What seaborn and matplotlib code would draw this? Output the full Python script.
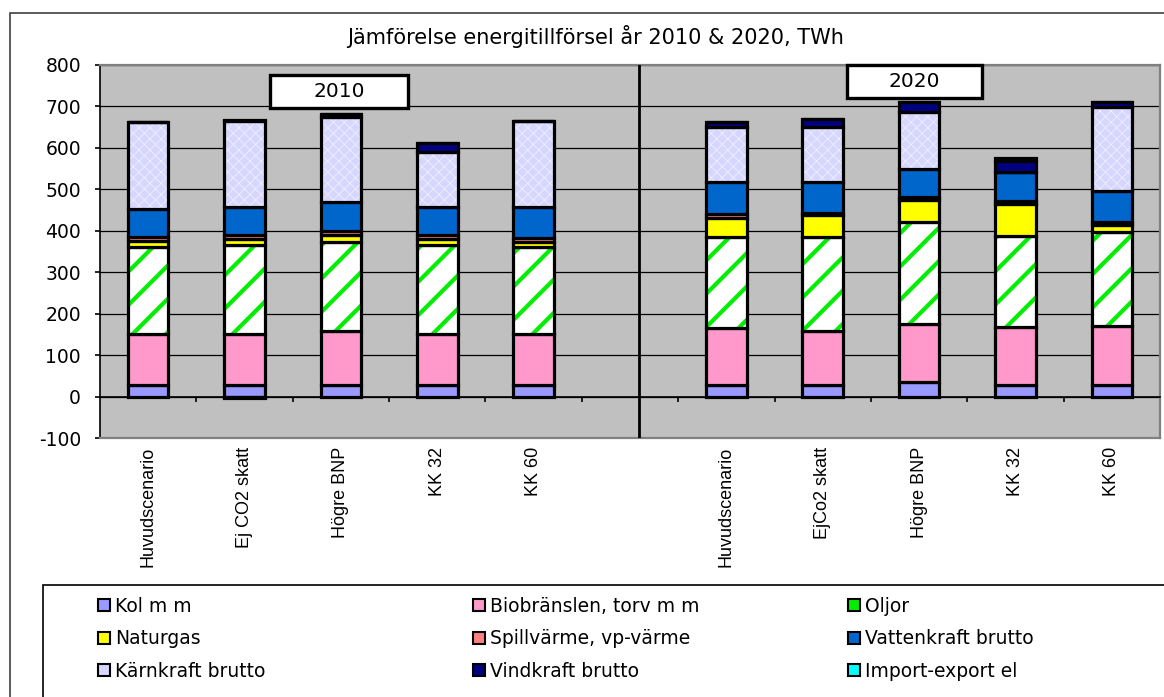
import numpy as np
import pandas as pd
import seaborn as sns
import matplotlib.pyplot as plt
from matplotlib.patches import Rectangle, Patch

plt.rcParams['axes.unicode_minus'] = False

# scenarier, 2010 och 2020
scen_2010 = ['Huvudscenario', 'Ej CO2 skatt', 'Högre BNP', 'KK 32', 'KK 60']
scen_2020 = ['Huvudscenario', 'EjCo2 skatt', 'Högre BNP', 'KK 32', 'KK 60']

# TWh (fem staplar 2010, sedan fem 2020)
kol = [29, 29, 29, 29, 29, 29, 29, 34, 29, 29]
bio = [123, 123, 129, 123, 123, 137, 128, 140, 139, 141]
oljor = [210, 213, 215, 213, 208, 219, 227, 246, 220, 227]
naturgas = [14, 15, 16, 15, 14, 46, 53, 54, 77, 17]
spill = [9, 9, 10, 9, 9, 9, 7, 8, 7, 8]
vatten = [67, 68, 70, 68, 74, 77, 73, 67, 71, 75]
karn = [210, 209, 206, 134, 207, 133, 133, 138, 0, 202]
vind = [1, 2, 6, 20, 2, 12, 19, 24, 25, 12]
import_el = [0, -4, 0, 0, 0, 0, 0, 0, 8, 0]

sources = ['Kol m m', 'Biobränslen, torv m m', 'Oljor', 'Naturgas',
           'Spillvärme, vp-värme', 'Vattenkraft brutto', 'Kärnkraft brutto',
           'Vindkraft brutto', 'Import-export el']
values = [kol, bio, oljor, naturgas, spill, vatten, karn, vind, import_el]

# (fyllning, mönster, mönsterfärg, mönsterbredd)
styles = {
    'Kol m m': ('#9999ff', None, None, 1),
    'Biobränslen, torv m m': ('#ff99cc', None, None, 1),
    'Oljor': ('white', '/', '#00ee00', 3.0),
    'Naturgas': ('#ffff00', None, None, 1),
    'Spillvärme, vp-värme': ('#ff8080', None, None, 1),
    'Vattenkraft brutto': ('#0066cc', None, None, 1),
    'Kärnkraft brutto': ('#d6d6ff', 'xxx', '#f0f0ff', 0.6),
    'Vindkraft brutto': ('#000080', None, None, 1),
    'Import-export el': ('#00ffff', None, None, 1),
}

keys = [s + ' 2010' for s in scen_2010] + [s + ' 2020' for s in scen_2020]
order = keys[:5] + ['gap'] + keys[5:]
tick_labels = scen_2010 + [''] + scen_2020

rows = []
for name, vals in zip(sources, values):
    for k, v in zip(keys, vals):
        rows.append({'key': k, 'source': name, 'TWh': v})
df = pd.DataFrame(rows)

W, H = 1164, 697
fig = plt.figure(figsize=(W / 100, H / 100), dpi=100)
ax = fig.add_axes([100 / W, 1 - 438 / H, 1060 / W, 373 / H])
ax.set_facecolor('#c0c0c0')

pos_base = np.zeros(len(keys))
neg_base = np.zeros(len(keys))
for name, vals in zip(sources, values):
    vals = np.array(vals, dtype=float)
    bottom = np.where(vals >= 0, pos_base, neg_base)
    sub = df[df['source'] == name]
    fc, hatch, hc, hlw = styles[name]
    if hatch:
        plt.rcParams['hatch.linewidth'] = hlw
        sns.barplot(data=sub, x='key', y='TWh', order=order, errorbar=None,
                    width=0.42, bottom=bottom, color=fc, facecolor=fc,
                    edgecolor=hc, hatch=hatch, linewidth=0, ax=ax)
        sns.barplot(data=sub, x='key', y='TWh', order=order, errorbar=None,
                    width=0.42, bottom=bottom, color='black', facecolor='none',
                    edgecolor='black', linewidth=2.3, ax=ax)
    else:
        sns.barplot(data=sub, x='key', y='TWh', order=order, errorbar=None,
                    width=0.42, bottom=bottom, color=fc, facecolor=fc,
                    edgecolor='black', linewidth=2.3, ax=ax)
    pos_base += np.clip(vals, 0, None)
    neg_base += np.clip(vals, None, 0)

ax.set_xlim(-0.5, 10.5)
ax.set_ylim(-100, 800)
ax.set_xlabel('')
ax.set_ylabel('')

# spines först, set_position nollställer tickarna
ax.spines['bottom'].set_position(('data', 0))
ax.spines['bottom'].set_color('black')
ax.spines['bottom'].set_linewidth(1.2)
ax.spines['left'].set_color('black')
ax.spines['left'].set_linewidth(1.2)
for s in ['top', 'right']:
    ax.spines[s].set_color('#808080')
    ax.spines[s].set_linewidth(1.6)
ax.axhline(-100, color='#808080', linewidth=1.6, zorder=2.6, clip_on=False)
ax.axvline(5.094, color='black', linewidth=2, zorder=3)

# axlar
ax.set_yticks(range(-100, 801, 100))
ax.tick_params(axis='y', length=3.6, width=1.2, pad=10, labelsize=13.5,
               colors='black')
ax.grid(axis='y', color='black', linewidth=0.9)
ax.set_axisbelow(True)

ax.set_xticks(range(11))
ax.set_xticklabels(tick_labels, rotation=90, va='top', ha='center',
                   family='Liberation Sans', fontsize=13)
ax.set_xticks(np.arange(0.5, 10, 1), minor=True)
ax.tick_params(axis='x', which='major', length=0, pad=36)
ax.tick_params(axis='x', which='minor', length=3.6, width=1.2, direction='out')

# rubrik
fig.text(596 / W, 1 - 37 / H, 'Jämförelse energitillförsel år 2010 & 2020, TWh',
         ha='center', va='center', fontsize=15)

# årsrutor
for label, x0, x1, y0, y1 in [('2010', 270, 408, 75, 108), ('2020', 847, 982, 65, 98)]:
    fig.patches.append(Rectangle((x0 / W, 1 - y1 / H), (x1 - x0) / W, (y1 - y0) / H,
                                 transform=fig.transFigure, facecolor='white',
                                 edgecolor='black', linewidth=2.4, zorder=5))
    fig.text((x0 + x1) / 2 / W, 1 - (y0 + y1) / 2 / H, label, ha='center',
             va='center', fontsize=14.5, zorder=6)

# ramar
fig.patches.append(Rectangle((10 / W, -0.1), 1.2, 1.1 - 13 / H,
                             transform=fig.transFigure, facecolor='none',
                             edgecolor='#404040', linewidth=1.2))
fig.patches.append(Rectangle((43 / W, -0.1), 1.2, 0.1 + 1 - 585 / H,
                             transform=fig.transFigure, facecolor='none',
                             edgecolor='black', linewidth=1.2))

# teckenförklaring, tre kolumner
plt.rcParams['hatch.linewidth'] = 4.0
handles = []
for name in sources:
    fc, hatch, hc, hlw = styles[name]
    if name == 'Oljor':
        handles.append(Patch(facecolor='#00ee00', edgecolor='black',
                             linewidth=1.5))
    else:
        handles.append(Patch(facecolor=fc, edgecolor='black', linewidth=1.5))
col_x = [98, 473, 848]
for c in range(3):
    idx = [c, c + 3, c + 6]
    fig.legend([handles[i] for i in idx], [sources[i] for i in idx],
               loc='upper left', bbox_to_anchor=(col_x[c] / W, 1 - 597 / H),
               frameon=False, fontsize=13.5, handlelength=0.62, handleheight=0.62,
               handletextpad=0.3, labelspacing=0.72, borderpad=0, borderaxespad=0)

fig.savefig('out.png', dpi=100)
